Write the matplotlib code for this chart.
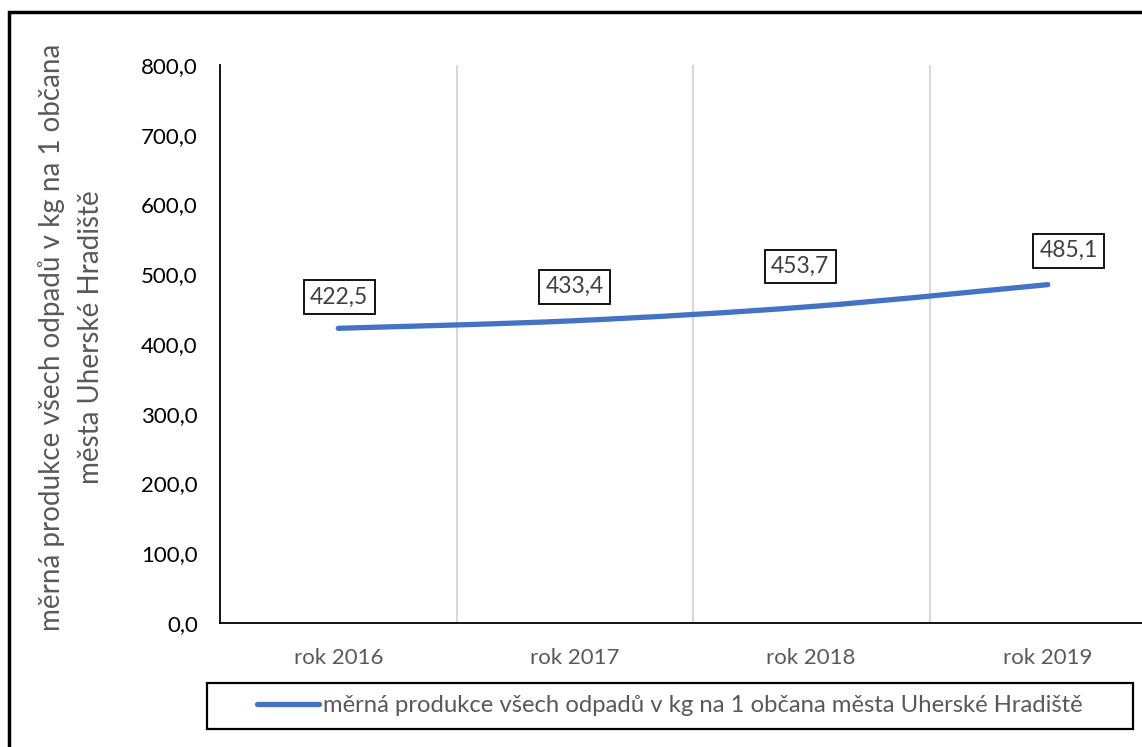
import matplotlib
matplotlib.use("Agg")
import matplotlib.pyplot as plt
from matplotlib.path import Path
from matplotlib.patches import PathPatch, Rectangle
from matplotlib.lines import Line2D

# Data
years = ["rok 2016", "rok 2017", "rok 2018", "rok 2019"]
values = [422.5, 433.4, 453.7, 485.1]
series_name = "měrná produkce všech odpadů v kg na 1 občana města Uherské Hradiště"
y_title = "měrná produkce všech odpadů v kg na 1 občana\nměsta Uherské Hradiště"
y_ticks = [0, 100, 200, 300, 400, 500, 600, 700, 800]

LINE = "#4472C4"
GREY = "#595959"
FONT = ["Lato", "DejaVu Sans"]
plt.rcParams["font.family"] = FONT

W, H = 1142, 747
fig = plt.figure(figsize=(W / 100, H / 100), dpi=100)

def fx(px):
    return px / W

def fy(py):
    return 1 - py / H

ax = fig.add_axes([fx(220), fy(623), fx(1166 - 220), (623 - 65) / H])
ax.set_xlim(-0.5, len(years) - 0.5)
ax.set_ylim(0, 800)

# category separators
for b in [i + 0.5 for i in range(len(years) - 1)]:
    ax.axvline(b, color="#D9D9D9", lw=1.5, zorder=1)

for s in ["top", "right"]:
    ax.spines[s].set_visible(False)
for s in ["left", "bottom"]:
    ax.spines[s].set_color("black")
    ax.spines[s].set_linewidth(1.3)

ax.set_yticks(y_ticks)
ax.set_yticklabels([f"{v:.1f}".replace(".", ",") for v in y_ticks], fontsize=16, color="black")
ax.set_xticks(range(len(years)))
ax.set_xticklabels(years, fontsize=16, color=GREY)
ax.tick_params(axis="y", length=0, pad=16)
ax.tick_params(axis="x", length=0, pad=18)

ax.set_ylabel(y_title, fontsize=20, color=GREY, linespacing=1.6)
ax.yaxis.set_label_coords(-0.123, 0.512)

# smoothed line through the points (cubic Bezier segments)
xs = list(range(len(values)))
pts = list(zip(xs, values))
verts = [pts[0]]
codes = [Path.MOVETO]
n = len(pts)
for i in range(n - 1):
    p0 = pts[i - 1] if i > 0 else pts[i]
    p1 = pts[i]
    p2 = pts[i + 1]
    p3 = pts[i + 2] if i + 2 < n else pts[i + 1]
    c1 = (p1[0] + (p2[0] - p0[0]) / 6, p1[1] + (p2[1] - p0[1]) / 6)
    c2 = (p2[0] - (p3[0] - p1[0]) / 6, p2[1] - (p3[1] - p1[1]) / 6)
    verts += [c1, c2, p2]
    codes += [Path.CURVE4] * 3
ax.add_patch(PathPatch(Path(verts, codes), fill=False, edgecolor=LINE, lw=3.8,
                       capstyle="round", zorder=3))

# value labels
offsets = [(1, 31), (0, 34), (-11, 40), (21, 34)]
for x, v, (dx, dy) in zip(xs, values, offsets):
    ax.annotate(f"{v:.1f}".replace(".", ","), (x, v), xytext=(dx, dy),
                textcoords="offset pixels", ha="center", va="center",
                fontsize=16.5, color="#404040", zorder=4,
                bbox=dict(boxstyle="square,pad=0.28", fc="white", ec="black", lw=1.3))

# legend box
fig.add_artist(Rectangle((fx(207), fy(729)), fx(1133 - 207), (729 - 683) / H,
                         transform=fig.transFigure, fill=False, ec="black", lw=1.6))
handle = Line2D([], [], color=LINE, lw=3.8, solid_capstyle="round")
fig.legend([handle], [series_name], loc="center", bbox_to_anchor=(fx(670), fy(706)),
           frameon=False, fontsize=17.2, labelcolor=GREY, handlelength=2.6,
           handletextpad=0.15)

# outer chart border
fig.add_artist(Rectangle((fx(9), fy(760)), fx(1160 - 9), (760 - 12) / H,
                         transform=fig.transFigure, fill=False, ec="black", lw=2.5))

fig.savefig("out.png", dpi=100)
